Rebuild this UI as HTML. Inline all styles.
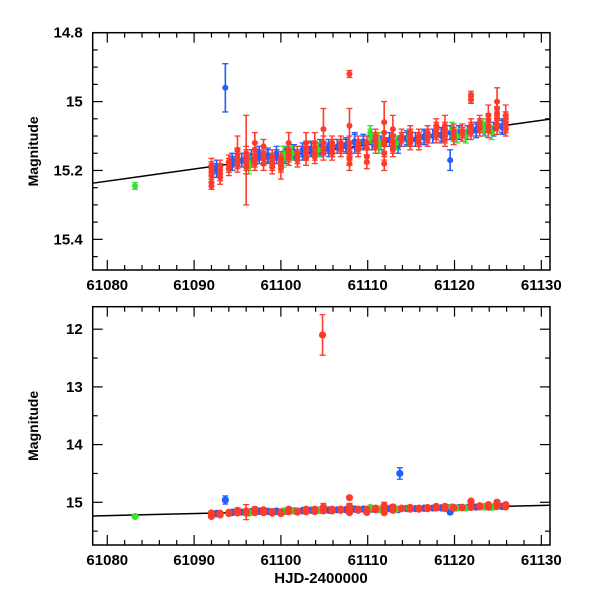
<!DOCTYPE html>
<html><head><meta charset="utf-8"><style>
html,body{margin:0;padding:0;background:#fff;}
svg{display:block;font-family:"Liberation Sans",sans-serif;}
</style></head><body>
<svg id="chart" width="600" height="600" viewBox="0 0 600 600" xmlns="http://www.w3.org/2000/svg"></svg>
<script>
// ---- data (HJD - 2461000, magnitude, error) ----
const redT = [92,92,92,92,92,92, 93,93,93,93, 94,94,94, 95,95,95,95,95, 96,96,96,96,96, 97,97,97,97,97, 98,98,98,98, 99,99,99,99, 100,100,100,100, 100.9,100.9,100.9,100.9, 101.9,101.9,101.9, 102.9,102.9,102.9,102.9, 103.9,103.9,103.9,103.9, 104.9,104.9,104.9,104.9, 105.9,105.9,105.9,105.9, 106.9,106.9,106.9, 107.9,107.9,107.9,107.9,107.9,107.9,107.9, 108.9,108.9,108.9, 109.9,109.9,109.9,109.9, 110.9,110.9,110.9,110.9, 111.9,111.9,111.9,111.9,111.9,111.9, 112.9,112.9,112.9,112.9,112.9, 113.9,113.9, 114.9,114.9,114.9,114.9, 115.9,115.9,115.9, 116.9,116.9,116.9, 117.9,117.9,117.9,117.9, 118.9,118.9,118.9,118.9,118.9, 119.9,119.9,119.9, 120.9,120.9, 121.9,121.9,121.9,121.9,121.9, 122.9,122.9,122.9, 123.9,123.9,123.9,123.9, 124.9,124.9,124.9,124.9,124.9,124.9, 125.9,125.9,125.9,125.9,125.9, 104.8];
const redM = [15.185,15.195,15.205,15.215,15.235,15.245, 15.19,15.2,15.21,15.22, 15.175,15.185,15.195, 15.14,15.155,15.165,15.175,15.185, 15.15,15.16,15.17,15.18,15.19, 15.12,15.14,15.155,15.17,15.18, 15.13,15.15,15.165,15.18, 15.16,15.17,15.18,15.19, 15.165,15.175,15.185,15.195, 15.12,15.14,15.155,15.165, 15.15,15.16,15.17, 15.12,15.135,15.15,15.165, 15.12,15.135,15.15,15.16, 15.08,15.12,15.135,15.15, 15.12,15.13,15.14,15.15, 15.12,15.13,15.14, 15.07,15.12,15.135,15.15,15.165,15.18,14.92, 15.12,15.13,15.14, 15.12,15.135,15.16,15.175, 15.10,15.11,15.12,15.13, 15.06,15.09,15.11,15.125,15.15,15.18, 15.08,15.10,15.115,15.13,15.14, 15.10,15.11, 15.09,15.10,15.11,15.12, 15.10,15.11,15.12, 15.09,15.10,15.11, 15.07,15.08,15.09,15.10, 15.07,15.08,15.09,15.10,15.11, 15.085,15.095,15.105, 15.085,15.095, 14.98,14.995,15.07,15.08,15.09, 15.06,15.07,15.08, 15.04,15.055,15.07,15.085, 15.00,15.02,15.035,15.05,15.065,15.075, 15.04,15.05,15.06,15.07,15.08, 12.1];
const redE = [.02,.02,.02,.02,.01,.01, .02,.02,.02,.02, .02,.02,.02, .04,.02,.02,.02,.02, .02,.02,.13,.02,.02, .03,.02,.02,.02,.02, .02,.02,.02,.02, .02,.02,.02,.02, .02,.02,.02,.03, .03,.02,.02,.02, .02,.02,.02, .03,.02,.02,.02, .03,.02,.02,.02, .06,.02,.02,.02, .02,.02,.02,.02, .02,.02,.02, .05,.02,.02,.02,.02,.02,.01, .02,.02,.02, .02,.02,.02,.02, .02,.02,.02,.02, .06,.03,.02,.02,.02,.02, .04,.02,.02,.02,.02, .02,.02, .02,.02,.02,.02, .02,.02,.02, .02,.02,.02, .02,.02,.02,.02, .03,.02,.02,.02,.02, .02,.02,.02, .02,.02, .01,.01,.02,.02,.02, .02,.02,.02, .03,.02,.02,.02, .04,.02,.02,.02,.02,.02, .03,.02,.02,.02,.02, .35];
const blueT = [92.6,92.6,93.6,94.4,94.4,95.5,96.6,96.6,97.5,97.5,98.5,98.5,99.5,99.5,100.5,100.5,101.5,101.5,102.5,102.5,103.5,103.5,104.5,104.5,105.5,105.5,106.5,107.5,107.5,108.5,108.5,109.5,109.5,110.5,111.5,112.5,113.5,113.5,113.7,114.5,114.5,115.5,116.5,116.5,117.5,118.5,118.5,119.5,119.5,120.5,121.5,122.5,122.5,123.5,124.5,125.5,125.5];
const blueM = [15.2,15.19,14.96,15.18,15.17,15.17,15.17,15.16,15.16,15.15,15.16,15.155,15.16,15.15,15.16,15.15,15.15,15.145,15.15,15.14,15.14,15.135,15.14,15.13,15.14,15.13,15.13,15.13,15.125,15.12,15.115,15.12,15.115,15.12,15.12,15.11,15.12,15.13,14.5,15.11,15.105,15.11,15.10,15.105,15.10,15.10,15.095,15.17,15.09,15.09,15.09,15.08,15.085,15.08,15.08,15.07,15.075];
const blueE = [.02,.02,.07,.02,.02,.02,.02,.02,.02,.02,.02,.02,.02,.02,.02,.02,.02,.02,.02,.02,.02,.02,.02,.02,.02,.02,.02,.02,.02,.03,.02,.02,.02,.02,.02,.02,.02,.02,.1,.02,.02,.02,.02,.02,.02,.02,.02,.03,.02,.02,.02,.02,.02,.02,.02,.02,.02];
const greenT = [83.2,96.3,96.3,100.3,100.3,101.3,104.3,110.3,110.3,111.3,111.3,113.3,114.8,114.8,119.7,120.3,121.3,123.3,123.3,124.3];
const greenM = [15.245,15.19,15.18,15.16,15.15,15.15,15.14,15.09,15.1,15.12,15.13,15.12,15.11,15.1,15.08,15.1,15.1,15.08,15.07,15.09];
const greenE = [.01,.02,.02,.03,.02,.02,.02,.02,.02,.03,.02,.02,.02,.02,.02,.02,.02,.02,.02,.02];
const xTicks = [61080,61090,61100,61110,61120,61130];
const yTicksTop = [14.8,15,15.2,15.4];
const yTicksBot = [12,13,14,15];
const fitA = 15.237, fitB = 0.00353, fitT0 = 61078.3;

const svg = document.getElementById('chart');
const NS = 'http://www.w3.org/2000/svg';
function mk(tag, attrs, parent){const e=document.createElementNS(NS,tag);for(const k in attrs)e.setAttribute(k,attrs[k]);(parent||svg).appendChild(e);return e;}

const X0=92.7, X1=550, T0=61078.32, T1=61131.0;
const xs = t => X0 + (t-T0)/(T1-T0)*(X1-X0);
const colors = {red:'#ff3b2a', blue:'#1f5fff', green:'#2ee62e'};

function panel(name, top, bot, m0, m1, yticks, minorStep, majorStep, r, cap, lbls){
  const ys = m => top + (m-m0)/(m1-m0)*(bot-top);
  const g = mk('g',{});
  
  
  const cid = name+'-clip';
  const cp = mk('clipPath',{id:cid},g); mk('rect',{x:X0,y:top,width:X1-X0,height:bot-top},cp);
  const plot = mk('g',{'clip-path':'url(#'+cid+')'},g);
  const fl = mk('line',{x1:xs(T0),y1:ys(fitA-fitB*(T0-fitT0)),x2:xs(T1),y2:ys(fitA-fitB*(T1-fitT0)),stroke:'#000','stroke-width':1.5},plot);
  
  
  function series(T,M,E,col,sname){
    const sg = mk('g',{},plot);
    
    
    for(let i=0;i<T.length;i++){
      const x=xs(61000+T[i]), y=ys(M[i]), y1=ys(M[i]-E[i]), y2=ys(M[i]+E[i]);
      mk('line',{x1:x,y1:y1,x2:x,y2:y2,stroke:col,'stroke-width':1.6},sg);
      mk('line',{x1:x-cap,y1:y1,x2:x+cap,y2:y1,stroke:col,'stroke-width':1.3},sg);
      mk('line',{x1:x-cap,y1:y2,x2:x+cap,y2:y2,stroke:col,'stroke-width':1.3},sg);
      const c = mk('circle',{cx:x,cy:y,r:r,fill:col},sg);
      
      
    }
  }
  series(blueT,blueM,blueE,colors.blue,'blue-series');
  series(greenT,greenM,greenE,colors.green,'green-series');
  series(redT,redM,redE,colors.red,'red-series');
  const fr = mk('rect',{x:X0,y:top,width:X1-X0,height:bot-top,fill:'none',stroke:'#000','stroke-width':1.5},g);
  
  
  for(let t=61078;t<=61131;t+=2){
    const x=xs(t); if(x<X0||x>X1) continue;
    const L = (t%10===0)?10:5;
    mk('line',{x1:x,y1:bot,x2:x,y2:bot-L,stroke:'#000','stroke-width':1.2},g);
    mk('line',{x1:x,y1:top,x2:x,y2:top+L,stroke:'#000','stroke-width':1.2},g);
  }
  xTicks.forEach(t=>{
    const tx = mk('text',{x:xs(t),y:bot+20,'text-anchor':'middle','font-size':15,'font-weight':'bold'},g);
    tx.textContent=t;
    
    
  });
  const n0=Math.ceil(Math.min(m0,m1)/minorStep-1e-6), n1=Math.floor(Math.max(m0,m1)/minorStep+1e-6);
  for(let n=n0;n<=n1;n++){
    const m=n*minorStep, y=ys(m);
    const isMaj = Math.abs(m/majorStep-Math.round(m/majorStep))<1e-6;
    const L=isMaj?10:5;
    mk('line',{x1:X0,y1:y,x2:X0+L,y2:y,stroke:'#000','stroke-width':1.2},g);
    mk('line',{x1:X1,y1:y,x2:X1-L,y2:y,stroke:'#000','stroke-width':1.2},g);
  }
  yticks.forEach((m,i)=>{
    const tx = mk('text',{x:X0-10,y:ys(m)+5,'text-anchor':'end','font-size':15,'font-weight':'bold'},g);
    tx.textContent=lbls[i];
    
    
  });
  const yl = mk('text',{x:0,y:0,'text-anchor':'middle','font-size':14,'font-weight':'bold',transform:'translate(38,'+((top+bot)/2)+') rotate(-90)'},g);
  yl.textContent='Magnitude';
  
  
}
panel('top-panel',32.7,270,14.8,15.489,yTicksTop,0.05,0.2,3,3,['14.8','15','15.2','15.4']);
panel('bottom-panel',306.7,545,11.61,15.74,yTicksBot,0.5,1,3.6,3,['12','13','14','15']);
const xl = mk('text',{x:321,y:583,'text-anchor':'middle','font-size':15,'font-weight':'bold'});
xl.textContent='HJD-2400000';


</script>
</body></html>
